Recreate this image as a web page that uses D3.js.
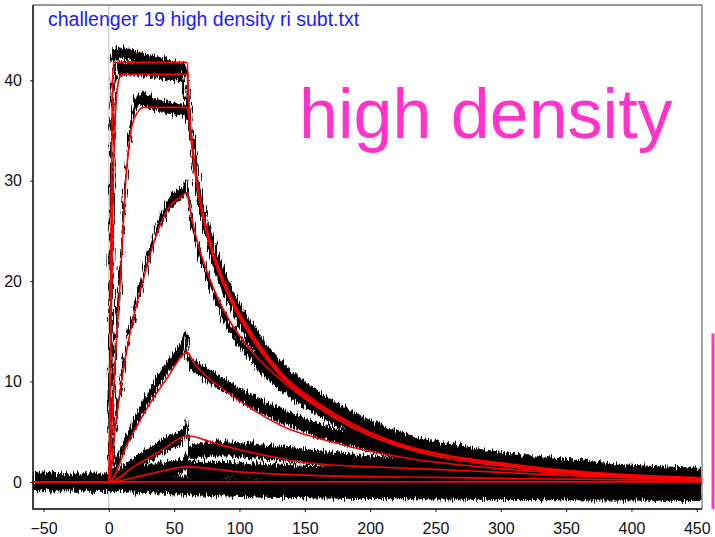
<!DOCTYPE html>
<html>
<head>
<meta charset="utf-8">
<script src="https://cdn.jsdelivr.net/npm/d3@7"></script>
<style>
  html, body { margin: 0; padding: 0; background: #fff; }
  svg { display: block; }
</style>
</head>
<body>
<svg id="chart" width="715" height="537"></svg>
<script>
// ---------- data ----------
const titleText = "challenger 19 high density ri subt.txt";
const noteText = "high density";
const xTicks = [-50, 0, 50, 100, 150, 200, 250, 300, 350, 400, 450];
const yTicks = [0, 10, 20, 30, 40];

// fitted curves (red), [time s, response]
const fit1 = [[-58,0],[0,0],[1,10],[2,30],[3,40.5],[4,41.8],[60,41.8],[61,38.5],[62,36.2],[65,32.5],[70,28.2],[78,23.8],[93,18.6],[108,15.1],[134,10.6],[160,7.9],[185,5.9],[210,4.4],[236,3.3],[261,2.6],[300,1.9],[350,1.15],[400,0.7],[454,0.4]];
const fit2 = [[-58,0],[0,0],[1,8],[2,18],[3,27],[4,33],[5,36.5],[6,38.5],[8,40.2],[10,40.6],[60,40.6],[61,38],[62,36],[65,32.3],[70,28],[78,23.6],[93,18.4],[108,14.9],[134,10.4],[160,7.7],[185,5.8],[210,4.3],[236,3.2],[261,2.5],[300,1.8],[350,1.1],[400,0.65],[454,0.35]];
const fit3 = [[-58,0],[0,0],[3,7.5],[6,14.5],[9,20.5],[11,25.5],[13,30],[15,33],[18,35.6],[22,36.8],[27,37.3],[60,37.3],[61,36.5],[62,35.3],[65,31.8],[70,27.6],[78,23.2],[93,18.1],[108,14.6],[134,10.2],[160,7.5],[185,5.6],[210,4.1],[236,3.0],[261,2.3],[300,1.6],[350,0.95],[400,0.55],[454,0.3]];
const fit4 = [[-58,0],[0,0],[5,5.5],[10,10.2],[15,14],[20,17],[27,20.4],[32,22.8],[40,25.8],[47,27.5],[54,28.3],[60,28.8],[62,27.3],[67,24.3],[75,21],[83,18.4],[95,15.5],[108,13.2],[134,9.9],[160,7.4],[185,5.5],[210,4.1],[250,2.8],[300,1.7],[350,1.0],[400,0.6],[454,0.3]];
const fit5 = [[-58,0],[0,0],[15,4.0],[30,7.5],[45,10.4],[60,12.9],[65,11.9],[75,10.5],[88,9.2],[100,8.1],[114,6.9],[139,5.2],[159,4.4],[185,3.5],[210,2.8],[236,2.2],[261,1.8],[300,1.3],[350,0.85],[400,0.5],[454,0.3]];
const fit6 = [[-58,0],[0,0],[20,1.6],[40,3.1],[60,4.6],[80,3.9],[100,3.2],[125,2.5],[146,2.0],[169,1.7],[200,1.5],[250,1.25],[300,0.95],[350,0.65],[400,0.4],[454,0.2]];
const fit7 = [[-58,0],[0,0],[30,0.75],[60,1.5],[100,1.0],[169,0.6],[250,0.45],[300,0.35],[400,0.2],[454,0.15]];
const fit8 = [[-58,0],[454,0]];

// measured sensorgrams (black), centre line [time s, response]
const trace1 = [[-58,0],[0,0],[1,15],[2,38],[3,42.5],[10,42.7],[20,42.4],[30,42.0],[40,41.7],[50,41.4],[57,41.2],[60,40.8],[61,38.5],[63,35.5],[66,32.5],[70,29],[78,24.5],[93,19.2],[108,15.6],[134,11.2],[160,8.5],[185,6.5],[210,5.0],[236,3.9],[261,3.2],[300,2.4],[350,1.7],[400,1.1],[454,0.8]];
const trace2 = [[-58,0],[0,0],[2,10],[3,25],[4,35],[5,39.5],[7,41.2],[15,41.2],[30,40.9],[45,40.6],[55,40.4],[57,39.5],[60,37.5],[62,36],[65,32.5],[70,28.2],[78,23.8],[93,18.7],[108,15.1],[134,10.7],[160,8.0],[185,6.0],[210,4.5],[236,3.4],[261,2.7],[300,1.9],[350,1.2],[400,0.8],[454,0.5]];
const trace3 = [[-58,0],[0,0],[3,8],[6,15.5],[9,21.5],[11,26],[13,30.5],[15,33.5],[18,36.5],[22,38],[26,38.1],[35,37.6],[45,37.3],[58,37.0],[60,36.5],[62,35],[65,31.5],[70,27.3],[78,22.8],[93,17.8],[108,14.2],[134,9.9],[160,7.3],[185,5.4],[210,4.0],[236,3.0],[261,2.3],[300,1.7],[350,1.1],[400,0.7],[454,0.4]];
const trace4 = [[-58,0],[0,0],[5,5.8],[10,10.6],[15,14.4],[20,17.4],[27,20.8],[32,23.2],[40,26.2],[47,27.8],[54,28.6],[58,29.2],[60,29.5],[62,27],[67,24],[75,20.6],[83,18],[95,15],[108,12.7],[134,9.5],[160,7.3],[185,5.5],[210,4.2],[250,2.9],[300,1.9],[350,1.2],[400,0.8],[454,0.5]];
const trace5 = [[-58,0],[0,0],[10,3.0],[20,5.8],[30,8.3],[40,10.5],[50,12.3],[57,13.5],[59,15],[60,14.2],[61,12],[65,11.6],[75,10.7],[88,9.7],[100,8.7],[114,7.7],[139,6.2],[160,5.2],[185,4.2],[210,3.4],[236,2.7],[261,2.2],[300,1.6],[350,1.1],[400,0.8],[454,0.5]];
const trace6 = [[-58,0],[0,0],[15,1.3],[30,2.6],[45,3.8],[57,4.6],[59,5.5],[60,4.8],[62,2.9],[70,3.1],[85,3.3],[100,3.2],[125,2.9],[146,2.6],[175,2.2],[200,1.9],[250,1.5],[300,1.2],[350,0.9],[400,0.6],[454,0.4]];
const trace7 = [[-58,0],[0,0],[30,0.9],[57,1.6],[59,2.3],[61,1.2],[80,1.2],[100,1.1],[150,0.8],[200,0.6],[300,0.3],[454,0.1]];
const trace8 = [[-58,0],[0,-0.1],[30,-0.2],[60,-0.4],[100,-0.6],[200,-0.8],[300,-0.9],[454,-1.0]];
// half-width of the noise band of each measured trace (response units)
const traceNoise = [0.6, 0.6, 0.6, 0.65, 0.7, 0.75, 0.8, 0.9];

const fits = [fit1, fit2, fit3, fit4, fit5, fit6, fit7, fit8];
const traces = [trace1, trace2, trace3, trace4, trace5, trace6, trace7, trace8];

// ---------- drawing ----------
const svg = d3.select("#chart");
const L = 33, R = 702, T = 5, B = 509;
const x = d3.scaleLinear().domain([-58, 454]).range([L, R]);
const y = d3.scaleLinear().domain([-2.7, 47.5]).range([B, T]);

const defs = svg.append("defs");
defs.append("clipPath").attr("id", "plotclip")
  .append("rect").attr("x", L).attr("y", T).attr("width", R - L).attr("height", B - T);
const filt = defs.append("filter").attr("id", "jag")
  .attr("x", "-2%").attr("y", "-5%").attr("width", "104%").attr("height", "110%");
filt.append("feTurbulence").attr("type", "fractalNoise")
  .attr("baseFrequency", "0.9 0.06").attr("numOctaves", 2).attr("seed", 7).attr("result", "noise");
filt.append("feDisplacementMap").attr("in", "SourceGraphic").attr("in2", "noise")
  .attr("scale", 11).attr("xChannelSelector", "R").attr("yChannelSelector", "G");

const plot = svg.append("g").attr("clip-path", "url(#plotclip)");

// light vertical line at t = 0
plot.append("line")
  .attr("x1", x(0)).attr("x2", x(0)).attr("y1", T).attr("y2", B)
  .attr("stroke", "#d4d4d4").attr("stroke-width", 1.5);

const curve = d3.curveMonotoneX;
const blackG = plot.append("g").attr("filter", "url(#jag)");
traces.forEach((tr, i) => {
  const n = traceNoise[i];
  blackG.append("path").datum(tr)
    .attr("d", d3.area().curve(curve)
      .x(d => x(d[0])).y0(d => y(d[1] - n)).y1(d => y(d[1] + n)))
    .attr("fill", "#000");
  blackG.append("path").datum(tr)
    .attr("d", d3.line().curve(curve).x(d => x(d[0])).y(d => y(d[1])))
    .attr("fill", "none").attr("stroke", "#000").attr("stroke-width", 2);
});

const redG = plot.append("g");
fits.forEach(f => {
  redG.append("path").datum(f)
    .attr("d", d3.line().curve(curve).x(d => x(d[0])).y(d => y(d[1])))
    .attr("fill", "none").attr("stroke", "#ff0000").attr("stroke-width", 1.6)
    .attr("stroke-linejoin", "round");
});

// frame
svg.append("line").attr("x1", L).attr("x2", R).attr("y1", T).attr("y2", T)
  .attr("stroke", "#777").attr("stroke-width", 1.5);
svg.append("line").attr("x1", R).attr("x2", R).attr("y1", T).attr("y2", B)
  .attr("stroke", "#888").attr("stroke-width", 1.5);

// axes
const xAxis = d3.axisBottom(x).tickValues(xTicks).tickSize(3).tickPadding(11).tickSizeOuter(0);
const gx = svg.append("g").attr("transform", `translate(0,${B})`).call(xAxis);
const yAxis = d3.axisLeft(y).tickValues(yTicks).tickSize(3).tickPadding(8).tickSizeOuter(0);
const gy = svg.append("g").attr("transform", `translate(${L},0)`).call(yAxis);
[gx, gy].forEach(g => {
  g.select(".domain").remove();
  g.selectAll(".tick line").attr("stroke", "#222").attr("stroke-width", 1);
  g.selectAll(".tick text").attr("fill", "#111")
    .style("font-family", "Arial, 'Liberation Sans', sans-serif").style("font-size", "16px");
});
svg.append("line").attr("x1", L).attr("x2", L).attr("y1", T).attr("y2", B + 0.5)
  .attr("stroke", "#000").attr("stroke-width", 1.5);
svg.append("line").attr("x1", L).attr("x2", R).attr("y1", B).attr("y2", B)
  .attr("stroke", "#000").attr("stroke-width", 1.5);

// title
svg.append("text").attr("x", 48).attr("y", 26)
  .style("font-family", "Arial, 'Liberation Sans', sans-serif").style("font-size", "19.5px")
  .attr("fill", "#1a1aff").text(titleText);

// annotation
svg.append("text").attr("x", 299).attr("y", 138)
  .style("font-family", "Arial, 'Liberation Sans', sans-serif").style("font-size", "70px")
  .attr("fill", "#ff33cc").text(noteText);

svg.append("line").attr("x1", 713).attr("x2", 713).attr("y1", y(14.8)).attr("y2", y(-2.7))
  .attr("stroke", "#ff33cc").attr("stroke-width", 3);
</script>
</body>
</html>
